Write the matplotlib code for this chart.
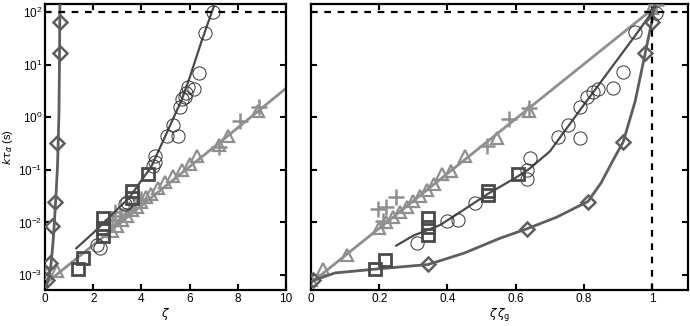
import matplotlib
matplotlib.use('Agg')
import matplotlib.pyplot as plt
import numpy as np
from matplotlib.ticker import LogLocator, NullLocator

plt.rcParams['font.family'] = ['Liberation Sans', 'DejaVu Sans']
plt.rcParams['font.size'] = 8.5

DARK = '#4a4a4a'
MID = '#5e5e5e'
LIGHT = '#8f8f8f'

# ---- left panel: k*tau vs zeta ----
# fitted curves
curveA_z = [0.05, 0.15, 0.25, 0.33, 0.4, 0.46, 0.52, 0.55, 0.58, 0.6, 0.61, 0.62]
curveA_y = [6e-4, 9e-4, 1.6e-3, 4e-3, 0.012, 0.035, 0.12, 0.35, 1.2, 10, 40, 150]
curveB_z = [1.3, 2.0, 2.5, 3.0, 3.5, 4.0, 4.4, 5.0, 5.67, 6.0, 6.5, 7.0, 7.05]
curveB_logy = [-2.49, -2.2, -1.98, -1.75, -1.53, -1.2, -0.95, -0.35, 0.33, 0.75, 1.45, 2.1, 2.2]
curveC_z = [0.0, 2.0, 4.0, 6.0, 8.0, 10.0]
curveC_logy = [-3.17, -2.43, -1.68, -0.94, -0.2, 0.55]

diam_z = [0.08, 0.2, 0.29, 0.41, 0.5, 0.62, 0.62]
diam_y = [8e-4, 1.7e-3, 8.4e-3, 0.024, 0.33, 16.6, 66]
circ_z = [6.97, 6.64, 6.39, 5.93, 6.2, 5.87, 5.8, 5.6, 5.68, 5.3, 5.52, 5.06, 4.56, 4.5, 4.55,
          3.4, 3.3, 2.15, 2.28]
circ_y = [100, 40, 7, 3.7, 3.5, 2.9, 2.4, 1.6, 2.2, 0.71, 0.44, 0.44, 0.18, 0.12, 0.14,
          0.024, 0.022, 0.0037, 0.0033]
sq_z = [1.37, 1.58, 2.4, 2.4, 2.4, 3.6, 3.6, 4.27]
sq_y = [0.0013, 0.0021, 0.012, 0.0078, 0.0055, 0.04, 0.029, 0.084]
tri_z = [0.08, 0.5, 2.8, 3.0, 3.2, 3.4, 3.6, 3.8, 4.0, 4.2, 4.4, 4.7, 5.0, 5.3, 5.7, 6.0, 6.3,
         7.2, 7.6, 8.85]
tri_y = [0.0011, 0.0012, 0.0068, 0.0085, 0.011, 0.0135, 0.017, 0.02, 0.024, 0.03, 0.035,
         0.045, 0.058, 0.075, 0.1, 0.13, 0.18, 0.3, 0.44, 1.3]
crs_z = [2.78, 2.9, 3.1, 3.5, 4.0, 7.2, 8.1, 8.9]
crs_y = [0.011, 0.016, 0.0135, 0.018, 0.028, 0.27, 0.84, 1.6]

# ---- right panel: k*tau vs zeta/zeta_g ----
rA_x = [0.0, 0.07, 0.2, 0.343, 0.45, 0.554, 0.633, 0.72, 0.812, 0.85, 0.886, 0.915, 0.95,
        0.98, 1.0, 1.008]
rA_logy = [-3.12, -2.96, -2.88, -2.8, -2.58, -2.3, -2.12, -1.9, -1.6, -1.25, -0.81, -0.47,
           0.3, 1.23, 1.85, 2.15]
rB_x = [0.25, 0.3, 0.378, 0.45, 0.52, 0.6, 0.64, 0.7, 0.79, 0.87, 0.95, 1.0, 1.01]
rB_logy = [-2.44, -2.25, -2.05, -1.75, -1.45, -1.15, -0.98, -0.65, 0.15, 0.85, 1.55, 2.0, 2.15]
rC_x = [0.0, 0.2, 0.4, 0.6, 0.8, 1.0, 1.02]
rC_logy = [-3.15, -2.11, -1.07, -0.03, 1.01, 2.05, 2.15]

rdiam_x = [0.005, 0.343, 0.633, 0.812, 0.915, 0.98, 1.0]
rdiam_y = [8e-4, 0.0016, 0.0076, 0.025, 0.34, 17, 65]
rcirc_x = [0.31, 0.4, 0.43, 0.48, 0.633, 0.633, 0.642, 0.724, 0.754, 0.789, 0.789, 0.81,
           0.827, 0.842, 0.886, 0.915, 0.95, 1.01]
rcirc_y = [0.0041, 0.0105, 0.011, 0.023, 0.1, 0.067, 0.17, 0.42, 0.71, 0.4, 1.55, 2.4,
           3.0, 3.5, 3.6, 7.3, 42, 96]
rsq_x = [0.188, 0.217, 0.343, 0.343, 0.343, 0.52, 0.52, 0.607]
rsq_y = [0.0013, 0.0019, 0.012, 0.0083, 0.0058, 0.04, 0.033, 0.084]
rtri_x = [0.0, 0.035, 0.105, 0.2, 0.22, 0.24, 0.26, 0.28, 0.3, 0.32, 0.34, 0.36, 0.384,
          0.41, 0.45, 0.545, 0.64, 1.0]
rtri_y = [0.0008, 0.0013, 0.0024, 0.0078, 0.01, 0.0126, 0.016, 0.02, 0.026, 0.032, 0.042,
          0.053, 0.084, 0.095, 0.18, 0.4, 1.3, 120]
rcrs_x = [0.197, 0.21, 0.22, 0.25, 0.515, 0.58, 0.64, 1.01]
rcrs_y = [0.018, 0.0106, 0.02, 0.03, 0.28, 0.93, 1.5, 135]

fig = plt.figure(figsize=(6.9, 3.26), dpi=100)
ax1 = fig.add_axes([0.0652, 0.1104, 0.3493, 0.8773])
ax2 = fig.add_axes([0.4507, 0.1104, 0.5464, 0.8773])

mk = dict(linestyle='none', markerfacecolor='none')


def draw(ax, ca_x, ca_y, cb_x, cb_y, cc_x, cc_y, d, c, s, t, x):
    ax.plot(cc_x, cc_y, color=LIGHT, lw=2, zorder=2)
    ax.plot(t[0], t[1], marker='^', ms=9, mec=LIGHT, mew=1.6, zorder=3, **mk)
    ax.plot(x[0], x[1], marker='+', ms=11, mec=LIGHT, mew=1.8, zorder=3, **mk)
    ax.plot(cb_x, cb_y, color=DARK, lw=1.6, zorder=4)
    ax.plot(c[0], c[1], marker='o', ms=9.5, mec='#333333', mew=0.7, zorder=5, **mk)
    ax.plot(s[0], s[1], marker='s', ms=9, mec=DARK, mew=2, zorder=5, **mk)
    ax.plot(ca_x, ca_y, color=MID, lw=2, zorder=4)
    ax.plot(d[0], d[1], marker='D', ms=7, mec=MID, mew=1.8, zorder=5, **mk)


draw(ax1, curveA_z, curveA_y, curveB_z, 10 ** np.array(curveB_logy),
     curveC_z, 10 ** np.array(curveC_logy),
     (diam_z, diam_y), (circ_z, circ_y), (sq_z, sq_y), (tri_z, tri_y), (crs_z, crs_y))
draw(ax2, rA_x, 10 ** np.array(rA_logy), rB_x, 10 ** np.array(rB_logy),
     rC_x, 10 ** np.array(rC_logy),
     (rdiam_x, rdiam_y), (rcirc_x, rcirc_y), (rsq_x, rsq_y), (rtri_x, rtri_y), (rcrs_x, rcrs_y))

ymin, ymax = 5.2e-4, 142
for ax in (ax1, ax2):
    ax.set_yscale('log')
    ax.set_ylim(ymin, ymax)
    ax.yaxis.set_major_locator(LogLocator(base=10, numticks=10))
    ax.yaxis.set_minor_locator(NullLocator())
    ax.axhline(100, color='black', ls=(0, (3, 3)), lw=1.6, zorder=6)
    ax.tick_params(which='both', direction='in', top=True, right=True, length=4,
                   width=1.5, pad=2, labelsize=8.5)
    for sp in ax.spines.values():
        sp.set_linewidth(1.6)

ax1.set_xlim(0, 10)
ax1.set_xticks([0, 2, 4, 6, 8, 10])
ax1.set_xlabel(r'$\zeta$', labelpad=1)
ax1.set_ylabel(r'$k\tau_\alpha$ (s)', fontsize=8)
ax1.yaxis.set_label_coords(-0.125, 0.5)

ax2.set_xlim(0, 1.105)
ax2.set_xticks([0, 0.2, 0.4, 0.6, 0.8, 1])
ax2.set_xticklabels(['0', '0.2', '0.4', '0.6', '0.8', '1'])
ax2.tick_params(labelleft=False)
ax2.plot([1, 1], [ymin, 100], color='black', ls=(0, (3, 3)), lw=1.6, zorder=6)
ax2.set_xlabel(r'$\zeta\,\zeta_{\rm g}$', labelpad=1)

fig.savefig('out.png', dpi=100)
